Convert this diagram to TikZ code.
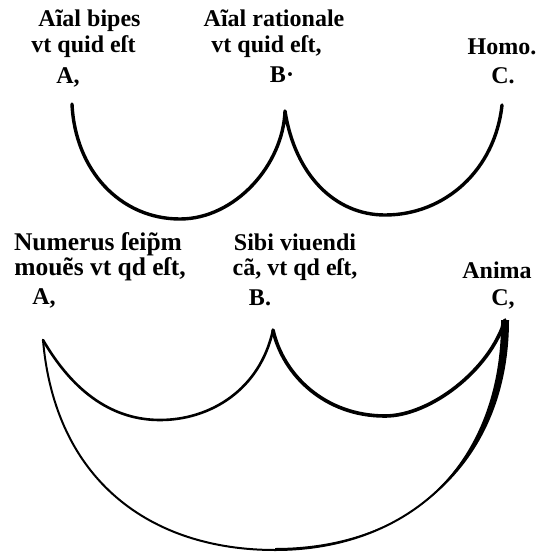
\documentclass[tikz,border=0pt]{standalone}
\usepackage{fontspec}
\setmainfont{Liberation Serif}
\begin{document}
\begin{tikzpicture}[x=1pt,y=-1pt,
  txt/.style={font=\fontsize{24}{24}\selectfont\bfseries, inner sep=0pt, anchor=base},
  widetxt/.style={txt, font=\fontsize{25.5}{25.5}\selectfont\bfseries},
  curve/.style={line width=3.4pt, line cap=round, line join=round},
  midcurve/.style={line width=2.6pt, line cap=round, line join=round},
  heavycurve/.style={line width=3.6pt, line cap=round, line join=round},
  thincurve/.style={line width=2pt, line cap=round, line join=round}]
\useasboundingbox (0,0) rectangle (547,559);
% top labels
\node[txt] (t1a) at (89.5,27) {Aĩal bipes};
\node[txt] (t1b) at (83.5,53) {vt quid eſt};
\node[txt] (t1c) at (68,84) {A,};
\node[txt] (t2a) at (274,27) {Aĩal rationale};
\node[txt] (t2b) at (266.5,53) {vt quid eſt,};
\node[txt] (t2c) at (282,83) {B·};
\node[txt] (t3a) at (502,55) {Homo.};
\node[txt] (t3c) at (503,84) {C.};
% bottom labels
\node[widetxt] (b1a) at (98,250) {Numerus ſeip̃m};
\node[widetxt] (b1b) at (100,275) {mouẽs vt qd eſt,};
\node[txt] (b1c) at (44,304) {A,};
\node[txt] (b2a) at (295,250) {Sibi viuendi};
\node[txt] (b2b) at (295,275) {cã, vt qd eſt,};
\node[txt] (b2c) at (260,305) {B.};
\node[txt] (b3a) at (497,278) {Anima};
\node[txt] (b3c) at (503,305) {C,};
% top arcs
\coordinate (uA) at (72,104);
\coordinate (uB) at (285,111);
\coordinate (uC) at (502,105);
\coordinate (u1) at (180,219);
\coordinate (u2) at (385,215);
\draw[curve] (uA) .. controls (75,170) and (120,219) .. (u1)
  .. controls (235,219) and (283,165) .. (uB)
  .. controls (295,175) and (335,215) .. (u2)
  .. controls (445,215) and (495,170) .. (uC);
% bottom arcs
\coordinate (lA) at (43,340);
\coordinate (lB) at (273,330);
\coordinate (lC) at (505,320);
\coordinate (l1) at (160,420);
\coordinate (l2) at (385,416);
\coordinate (lO) at (275,550);
\draw[midcurve] (lA) .. controls (75,395) and (115,420) .. (l1)
  .. controls (210,420) and (260,390) .. (lB);
\draw[heavycurve] (lB) .. controls (283,375) and (325,416) .. (l2)
  .. controls (430,416) and (490,370) .. (lC);
\draw[thincurve] (lA) .. controls (55,480) and (150,550) .. (lO)
  .. controls (410,550) and (505,460) .. (lC);
\fill (lO) .. controls (410,551.5) and (502,460) .. (501,320)
  -- (509,320) .. controls (509,460) and (412,548) .. (275,548) -- cycle;
\end{tikzpicture}
\end{document}
